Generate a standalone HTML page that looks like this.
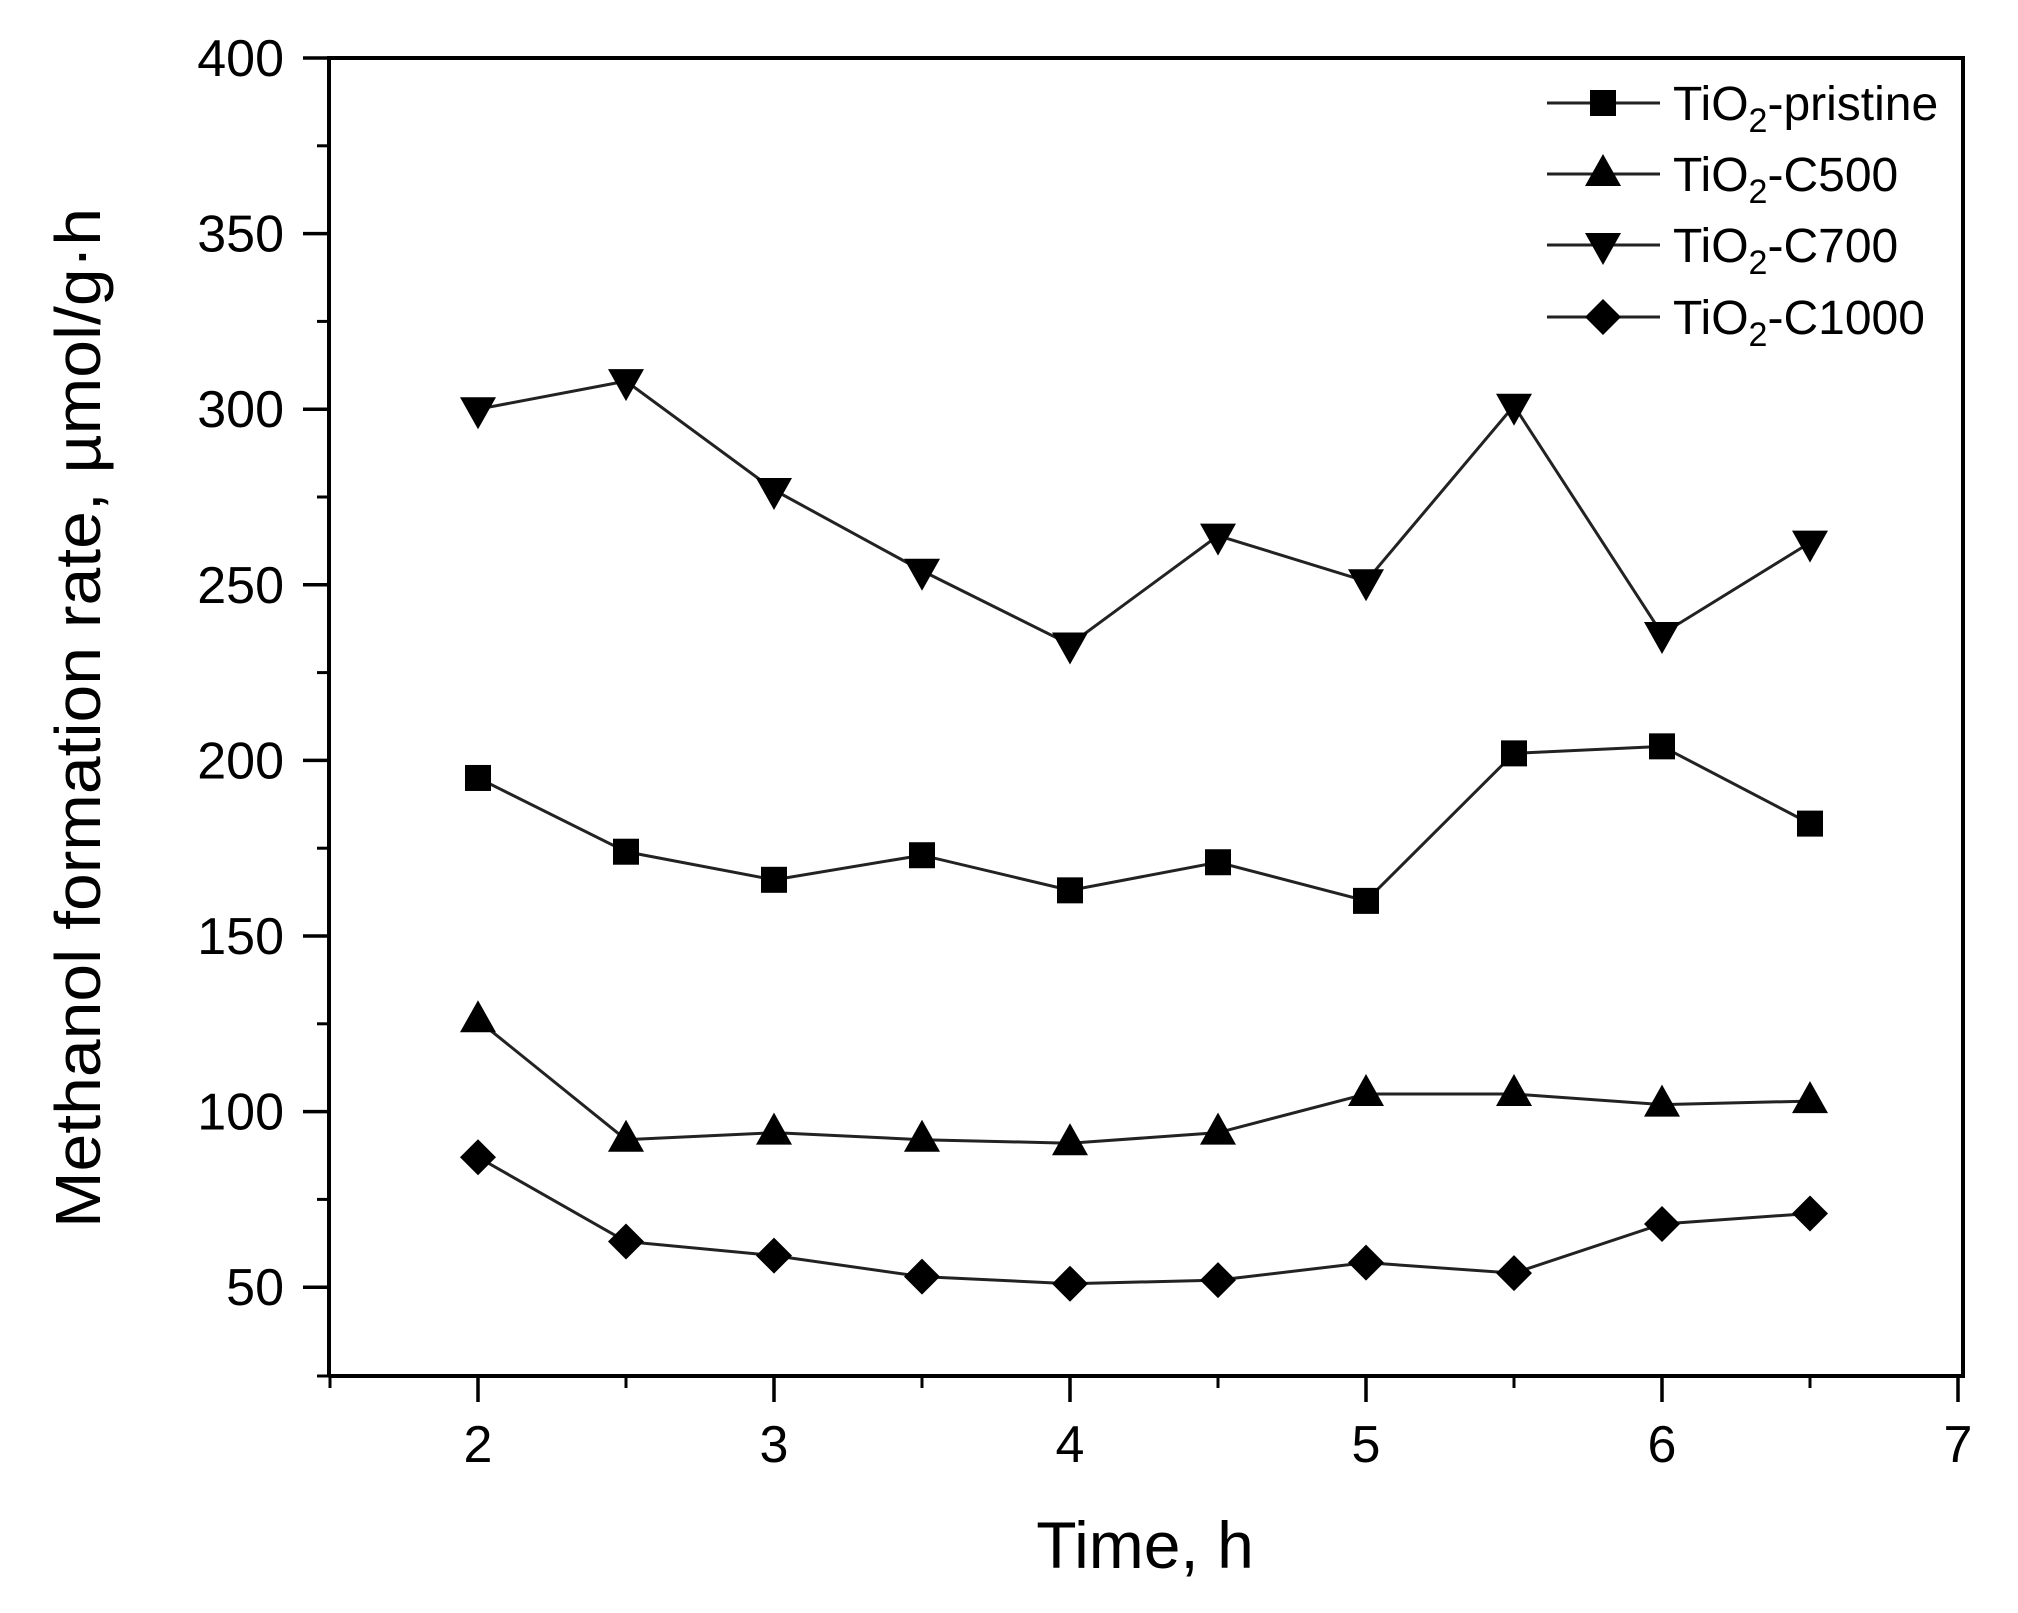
<!DOCTYPE html>
<html><head><meta charset="utf-8">
<style>html,body{margin:0;padding:0;background:#fff;width:2018px;height:1613px;overflow:hidden}</style>
</head><body>
<svg id="s" width="2018" height="1613" xmlns="http://www.w3.org/2000/svg" font-family="Liberation Sans, Arial, sans-serif">
<rect width="2018" height="1613" fill="#fff"/>
</svg>
<script>
const s=document.getElementById('s');const NS='http://www.w3.org/2000/svg';
function el(t,a,txt){const e=document.createElementNS(NS,t);for(const k in a)e.setAttribute(k,a[k]);if(txt!=null)e.textContent=txt;s.appendChild(e);return e;}
const X=v=>478+(v-2)*296, Y=v=>58+(400-v)/50*175.6;
const L=329,R=1963,T=58,B=1376;
el('path',{d:`M${L} ${B}V${T}H${R}V${B}H${L}`,fill:'none',stroke:'#000','stroke-width':4});
for(let v=50;v<=400;v+=50){el('line',{x1:L-26,x2:L,y1:Y(v),y2:Y(v),stroke:'#000','stroke-width':3.5});
 el('text',{x:284,y:Y(v)+18,'font-size':52,'text-anchor':'end'},v);}
for(let v=75;v<400;v+=50){el('line',{x1:L-12,x2:L,y1:Y(v),y2:Y(v),stroke:'#000','stroke-width':3});}
el('line',{x1:L-12,x2:L,y1:B,y2:B,stroke:'#000','stroke-width':3});
for(let v=2;v<=7;v++){el('line',{x1:X(v),x2:X(v),y1:B,y2:B+26,stroke:'#000','stroke-width':3.5});
 el('text',{x:X(v),y:1462,'font-size':52,'text-anchor':'middle'},v);}
for(let v=1.5;v<7;v+=1){el('line',{x1:X(v),x2:X(v),y1:B,y2:B+12,stroke:'#000','stroke-width':3});}
el('text',{x:1145,y:1568,'font-size':66,'text-anchor':'middle'},'Time, h');
el('text',{x:0,y:0,'font-size':64,'text-anchor':'middle',transform:'translate(100,718) rotate(-90)',textLength:1020,lengthAdjust:'spacingAndGlyphs'},'Methanol formation rate, µmol/g·h');
function mk(type,x,y){
 if(type==='sq')el('rect',{x:x-13,y:y-13,width:26,height:26,fill:'#000'});
 else if(type==='up')el('polygon',{points:`${x-18},${y+12} ${x+18},${y+12} ${x},${y-20}`,fill:'#000'});
 else if(type==='dn')el('polygon',{points:`${x-18},${y-12} ${x+18},${y-12} ${x},${y+20}`,fill:'#000'});
 else el('polygon',{points:`${x-18},${y} ${x},${y-18} ${x+18},${y} ${x},${y+18}`,fill:'#000'});
}
const xs=[2,2.5,3,3.5,4,4.5,5,5.5,6,6.5];
const data=[['sq',[195,174,166,173,163,171,160,202,204,182],'pristine'],
['up',[126,92,94,92,91,94,105,105,102,103],'C500'],
['dn',[300,308,277,254,233,264,251,301,236,262],'C700'],
['di',[87,63,59,53,51,52,57,54,68,71],'C1000']];
const ly=[103,174,245,317];
data.forEach((d,i)=>{
 el('polyline',{points:xs.map((x,j)=>X(x)+','+Y(d[1][j])).join(' '),fill:'none',stroke:'#222','stroke-width':3});
 xs.forEach((x,j)=>mk(d[0],X(x),Y(d[1][j])));
 el('line',{x1:1547,x2:1660,y1:ly[i],y2:ly[i],stroke:'#222','stroke-width':3});
 mk(d[0],1603,ly[i]);
 const t=el('text',{x:1673,y:ly[i]+17,'font-size':48});
 const a=document.createElementNS(NS,'tspan');a.textContent='TiO';t.appendChild(a);
 const b=document.createElementNS(NS,'tspan');b.textContent='2';b.setAttribute('font-size',34);b.setAttribute('dy',12);t.appendChild(b);
 const c=document.createElementNS(NS,'tspan');c.textContent='-'+d[2];c.setAttribute('dy',-12);t.appendChild(c);
});
</script>
</body></html>
